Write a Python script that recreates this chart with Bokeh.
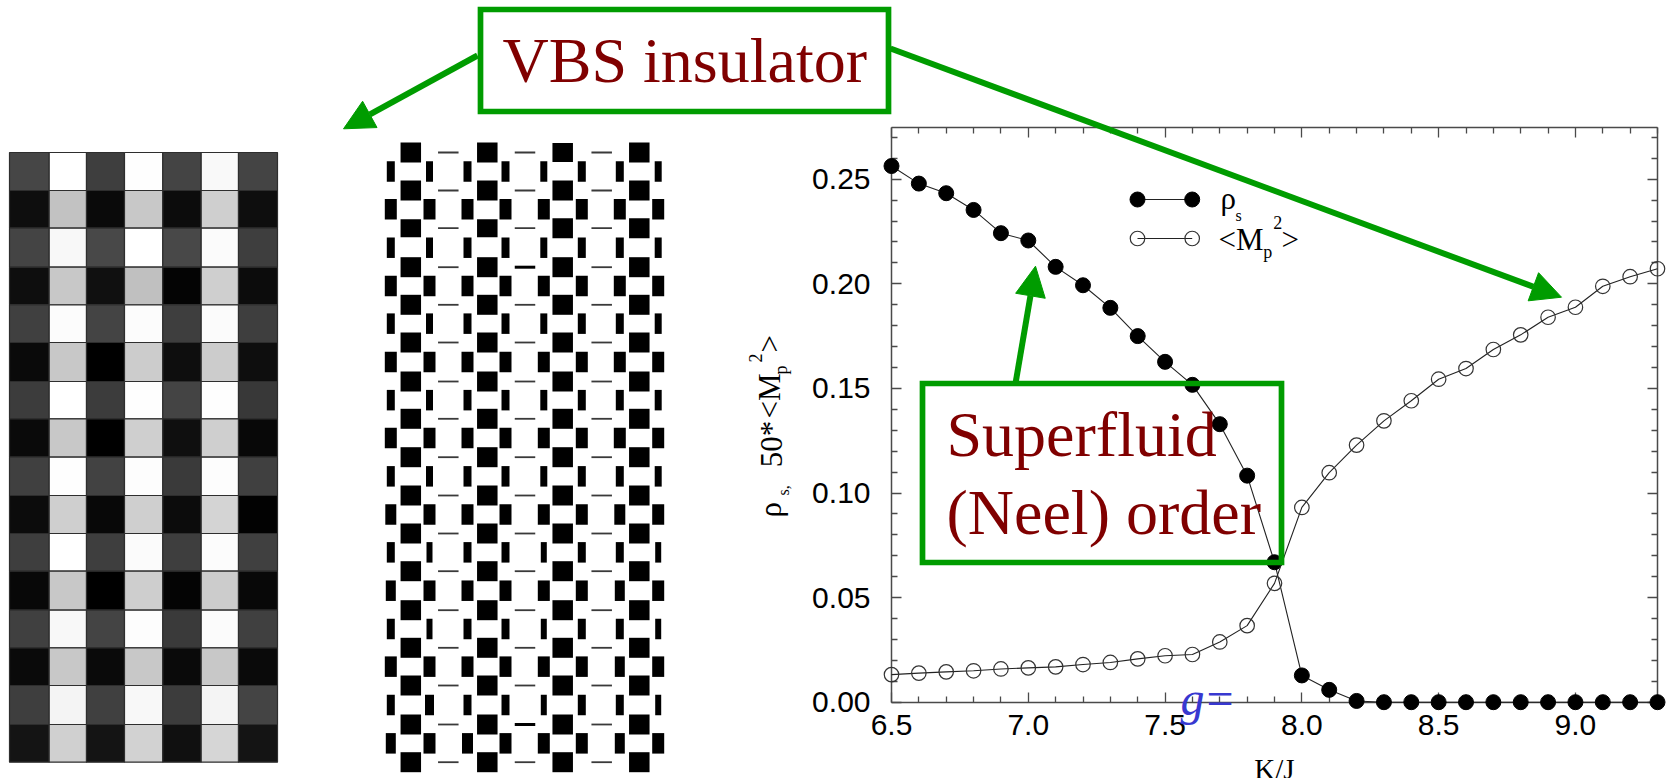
from bokeh.plotting import figure
from bokeh.embed import file_html
from bokeh.resources import INLINE
from bokeh.core.properties import value
from bokeh.models import (Range1d, LinearAxis, FixedTicker, PrintfTickFormatter,
                          Arrow, NormalHead)
import math

# ---------- data ----------
kj = [6.5, 6.6, 6.7, 6.8, 6.9, 7.0, 7.1, 7.2, 7.3, 7.4, 7.5, 7.6, 7.7, 7.8, 7.9,
      8.0, 8.1, 8.2, 8.3, 8.4, 8.5, 8.6, 8.7, 8.8, 8.9, 9.0, 9.1, 9.2, 9.3]
rho_s = [0.2563, 0.2479, 0.2433, 0.2353, 0.2242, 0.2207, 0.2081, 0.1993, 0.1885, 0.1750,
         0.1627, 0.1517, 0.1329, 0.1083, 0.0669, 0.0128, 0.0059, 0.0006, 0.0, 0.0,
         0.0, 0.0, 0.0, 0.0, 0.0, 0.0, 0.0, 0.0, 0.0]
mp2 = [0.0132, 0.0139, 0.0145, 0.0150, 0.0159, 0.0164, 0.0169, 0.0180, 0.0190, 0.0207,
       0.0222, 0.0228, 0.0288, 0.0366, 0.0568, 0.0931, 0.1097, 0.1229, 0.1345, 0.1441,
       0.1544, 0.1595, 0.1686, 0.1756, 0.1840, 0.1888, 0.1988, 0.2034, 0.2072]

x_major = [6.5, 7.0, 7.5, 8.0, 8.5, 9.0]
x_minor = [6.6, 6.7, 6.8, 6.9, 7.1, 7.2, 7.3, 7.4, 7.6, 7.7, 7.8, 7.9,
           8.1, 8.2, 8.3, 8.4, 8.6, 8.7, 8.8, 8.9, 9.1, 9.2, 9.3]
y_major = [0.0, 0.05, 0.10, 0.15, 0.20, 0.25]
y_minor = [0.01, 0.02, 0.03, 0.04, 0.06, 0.07, 0.08, 0.09, 0.11, 0.12, 0.13, 0.14,
           0.16, 0.17, 0.18, 0.19, 0.21, 0.22, 0.23, 0.24, 0.26, 0.27]

# grey level of each cell of the left-hand map (rows top to bottom)
heat = [
    [0x46, 0xff, 0x3e, 0xfe, 0x44, 0xf9, 0x44],
    [0x0e, 0xc2, 0x0a, 0xc8, 0x0c, 0xcf, 0x0e],
    [0x44, 0xf8, 0x48, 0xff, 0x48, 0xfb, 0x3e],
    [0x0e, 0xc8, 0x10, 0xc0, 0x04, 0xcf, 0x0c],
    [0x40, 0xfc, 0x44, 0xfc, 0x3e, 0xfb, 0x3e],
    [0x0a, 0xc8, 0x00, 0xcc, 0x0e, 0xcc, 0x0e],
    [0x3c, 0xff, 0x3c, 0xfe, 0x44, 0xfe, 0x38],
    [0x0a, 0xc8, 0x00, 0xcf, 0x0f, 0xcf, 0x08],
    [0x40, 0xfe, 0x42, 0xfd, 0x3a, 0xfd, 0x40],
    [0x0c, 0xcf, 0x08, 0xcf, 0x0c, 0xd4, 0x02],
    [0x3e, 0xff, 0x3e, 0xfb, 0x3e, 0xfc, 0x40],
    [0x08, 0xc8, 0x00, 0xce, 0x04, 0xcc, 0x08],
    [0x40, 0xf8, 0x44, 0xfd, 0x3a, 0xfb, 0x40],
    [0x0a, 0xc8, 0x0a, 0xc8, 0x0a, 0xc8, 0x0a],
    [0x3e, 0xf4, 0x40, 0xf8, 0x3c, 0xf4, 0x44],
    [0x14, 0xd0, 0x14, 0xd2, 0x10, 0xd6, 0x14],
]

# vertical bond strength per row and bond column
bond_v = [
    [8, 7, 8, 8, 7, 8, 8, 7],
    [12, 12, 12, 12, 12, 12, 12, 12],
    [8, 7, 8, 8, 7, 8, 8, 7],
    [12, 12, 12, 12, 12, 12, 12, 12],
    [8, 7, 8, 8, 7, 8, 8, 7],
    [12, 12, 12, 12, 12, 12, 12, 12],
    [8, 7, 8, 8, 7, 8, 8, 7],
    [12, 12, 12, 12, 12, 12, 12, 12],
    [8, 7, 8, 8, 7, 8, 8, 7],
    [11, 12, 12, 12, 12, 12, 11, 12],
    [8, 6, 8, 8, 6, 8, 8, 6],
    [10, 12, 12, 12, 12, 12, 10, 12],
    [8, 6, 8, 8, 6, 8, 8, 6],
    [12, 12, 12, 12, 12, 12, 10, 12],
    [8, 9, 8, 8, 6, 8, 8, 6],
    [10, 12, 11, 12, 12, 12, 10, 12],
]
# strong horizontal bond strength per row and column
bond_s = [
    [20, 20, 19, 20], [20, 20, 20, 20], [18, 18, 20, 20], [20, 20, 20, 20],
    [20, 20, 20, 20], [20, 20, 20, 20], [20, 20, 20, 20], [20, 20, 20, 20],
    [20, 20, 20, 20], [20, 20, 20, 20], [20, 20, 20, 20], [20, 20, 20, 20],
    [20, 20, 20, 20], [20, 20, 20, 20], [20, 20, 20, 20], [20, 20, 20, 20],
    [20, 20, 20, 20],
]
# weak horizontal bond strength per row and column
bond_w = [
    [1.8, 1.8, 1.8], [1.8, 1.8, 1.8], [1.8, 1.8, 1.8], [1.8, 3, 1.8],
    [1.8, 1.8, 1.8], [1.8, 1.8, 1.8], [1.8, 1.8, 1.8], [1.8, 1.8, 1.8],
    [1.8, 1.8, 1.8], [1.8, 1.8, 1.8], [1.8, 1.8, 1.8], [1.8, 1.8, 1.8],
    [1.8, 1.8, 1.8], [1.8, 1.8, 1.8], [1.8, 1.8, 1.8], [1.8, 3, 1.8],
    [1.8, 1.8, 1.8],
]

# ---------- layout (page pixels) ----------
W, H = 1671, 778
OFF = 0
X0, X1 = 891.0, 1657.0            # K/J 6.5 and 9.3
Y0, Y25 = 701.7, 178.7            # 0.00 and 0.25
sx = (X1 - X0) / 2.8
sy = (Y0 - Y25) / 0.25

col_edges = [9, 48.7, 86, 124, 162.3, 200.7, 238, 277]
row_edges = [152, 190, 227.7, 266.7, 304.3, 342, 381, 418.3, 456.7, 495, 533,
             570.7, 609.7, 647.3, 685, 724, 761.7]
bar_x = [390.3, 429, 467, 505, 543.3, 581.3, 619.3, 657.7]
sq_x = [410.3, 486.8, 562.2, 638.8]
dash_x = [447.8, 524.5, 601.2]

GREEN = "#009c00"
RED = "#800000"
BLUE = "#3838d0"
SERIF = value("Liberation Serif")
BASE_SHIFT = 0.36   # Bokeh's alphabetic text sits this many em below the anchor

p = figure(width=W, height=H, output_backend="svg", toolbar_location=None,
           x_range=Range1d(6.5 - (X0 - OFF) / sx, 9.3 + (OFF + W - X1) / sx),
           y_range=Range1d(-(OFF + H - Y0) / sy, (Y0 - OFF) / sy),
           x_axis_type=None, y_axis_type=None,
           min_border=0, min_border_left=0, min_border_right=0,
           min_border_top=0, min_border_bottom=0, outline_line_color=None)
p.grid.visible = False
p.extra_x_ranges["px"] = Range1d(OFF, OFF + W)
p.extra_y_ranges["px"] = Range1d(OFF + H, OFF)
PX = dict(x_range_name="px", y_range_name="px")


def make_axis(cls_side, ticks, minors, bound, loc, label_on):
    ax = LinearAxis(ticker=FixedTicker(ticks=ticks, minor_ticks=minors), bounds=bound,
                    fixed_location=loc,
                    formatter=PrintfTickFormatter(format="%.1f" if cls_side in ("below", "above") else "%.2f"),
                    axis_line_color="#4a4a4a", axis_line_width=1.5,
                    major_tick_line_color="#4a4a4a", major_tick_line_width=1.3,
                    minor_tick_line_color="#4a4a4a", minor_tick_line_width=1.3,
                    major_tick_in=10, major_tick_out=0, minor_tick_in=6, minor_tick_out=0,
                    major_label_text_font=("Liberation Sans"),
                    major_label_text_font_size="30px", major_label_text_color="#000000",
                    major_label_standoff=13 if cls_side == "below" else 21, level="underlay")
    if not label_on:
        ax.major_label_overrides = {t: "" for t in ticks}
    p.add_layout(ax, cls_side)
    return ax


YTOP = (Y0 - 126.7) / sy
xb = make_axis("below", x_major, x_minor, (6.5, 9.3), 0.0, True)
xb.axis_label = "K/J"
xb.axis_label_text_font = "Liberation Serif"
xb.axis_label_text_font_size = "29px"
xb.axis_label_text_font_style = "normal"
xb.axis_label_text_color = "#000000"
xb.axis_label_standoff = 14
make_axis("above", x_major, x_minor, (6.5, 9.3), YTOP, False)
make_axis("left", y_major, y_minor, (0.0, YTOP), 6.5, True)
make_axis("right", y_major, y_minor, (0.0, YTOP), 9.3, False)

# --- left map
lefts, rights, tops, bottoms, cols = [], [], [], [], []
for r, row in enumerate(heat):
    for c, g in enumerate(row):
        lefts.append(col_edges[c]); rights.append(col_edges[c + 1])
        tops.append(row_edges[r]); bottoms.append(row_edges[r + 1])
        cols.append("#%02x%02x%02x" % (g, g, g))
p.quad(left=lefts, right=rights, top=tops, bottom=bottoms, fill_color=cols,
       line_color="#2e2e2e", line_width=1.2, **PX)

# --- bond pattern
bx, by, bw, bh = [], [], [], []
for r, row in enumerate(bond_v):
    yc = (row_edges[r] + row_edges[r + 1]) / 2
    for c, w in enumerate(row):
        bx.append(bar_x[c]); by.append(yc); bw.append(w); bh.append(20.5)
for r, row in enumerate(bond_s):
    for c, h in enumerate(row):
        bx.append(sq_x[c]); by.append(row_edges[r]); bw.append(20.5); bh.append(h)
p.rect(x=bx, y=by, width=bw, height=bh, width_units="screen", height_units="screen",
       fill_color="#000000", line_color=None, **PX)
dx, dy, dh, dc = [], [], [], []
for r, row in enumerate(bond_w):
    for c, h in enumerate(row):
        dx.append(dash_x[c]); dy.append(row_edges[r]); dh.append(h)
        dc.append("#000000" if h > 2 else "#3a3a3a")
p.rect(x=dx, y=dy, width=20.5, height=dh, width_units="screen", height_units="screen",
       fill_color=dc, line_color=None, **PX)

# --- curves
p.line(kj, rho_s, line_color="#222222", line_width=1.1)
p.scatter(kj, rho_s, size=15, marker="circle", fill_color="#000000", line_color="#000000")
p.line(kj, mp2, line_color="#222222", line_width=1.1)
p.scatter(kj, mp2, size=14.5, marker="circle", fill_color=None, line_color="#333333", line_width=1.2)

# --- legend of the plot
p.line([1137, 1191.7], [199, 199], line_color="#222222", line_width=1.1, **PX)
p.scatter([1137, 1191.7], [199, 199], size=15, marker="circle", fill_color="#000000",
          line_color="#000000", **PX)
p.line([1137, 1191.7], [238, 238], line_color="#222222", line_width=1.1, **PX)
p.scatter([1137, 1191.7], [238, 238], size=14.5, marker="circle", fill_color=None,
          line_color="#333333", line_width=1.2, **PX)


def txt(x, y, s, size, color="#000000", angle=0.0, style="normal"):
    off = BASE_SHIFT * size
    xa = x - off * math.sin(angle)
    ya = y - off * math.cos(angle)
    p.text([xa], [ya], text=[s], text_font=SERIF, text_font_size=f"{size}px", text_color=color,
           text_font_style=style, text_align="left", text_baseline="alphabetic", angle=angle, **PX)


txt(1220, 209, "ρ", 31)
txt(1235, 221, "s", 16)
txt(1218, 250, "<M", 31)
txt(1262.7, 258, "p", 18)
txt(1272.7, 228, "2", 18)
txt(1281, 250, ">", 31)

# --- y title, rotated pieces
UP = 1.5707963
txt(781, 517, "ρ", 31, angle=UP)
txt(789, 495, "s,", 16, angle=UP)
txt(782, 466.7, "50*", 31, angle=UP)
txt(780, 418, "<M", 31, angle=UP)
txt(787, 374, "p", 18, angle=UP)
txt(761, 362, "2", 18, angle=UP)
txt(780, 352, ">", 31, angle=UP)

# --- g=
txt(1180, 715, "g", 48, color=BLUE, style="italic")
txt(1206, 715, "=", 48, color=BLUE)

# --- call-outs
p.quad(left=[480, 922], right=[888, 1281], top=[9, 383], bottom=[111, 562],
       fill_color=None, line_color=GREEN, line_width=5.7, line_join="miter", **PX)
txt(502, 83, "VBS insulator", 64, color=RED)
txt(946, 457, "Superfluid", 64, color=RED)
txt(946, 535, "(Neel) order", 64, color=RED)

for xs, ys, xe, ye in [(477, 55, 343, 128.3), (890, 48, 1561, 296.7), (1015, 383, 1035, 265.7)]:
    p.add_layout(Arrow(end=NormalHead(size=30, fill_color=GREEN, line_color=GREEN, line_width=1),
                       x_start=xs, y_start=ys, x_end=xe, y_end=ye,
                       line_color=GREEN, line_width=6, **{"x_range_name": "px", "y_range_name": "px"}))

open("out.html", "w").write(file_html(p, INLINE))
